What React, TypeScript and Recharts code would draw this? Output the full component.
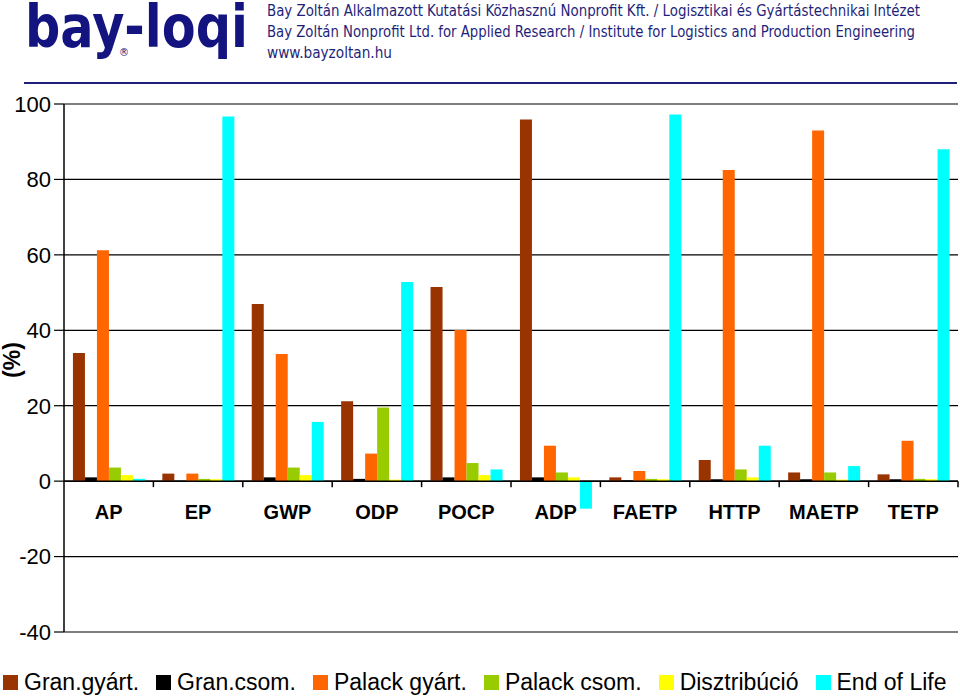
import { BarChart, Bar, XAxis, YAxis, CartesianGrid, ReferenceLine } from "recharts";

const categories = ["AP", "EP", "GWP", "ODP", "POCP", "ADP", "FAETP", "HTTP", "MAETP", "TETP"];
const granGyart = [34.0, 2.0, 47.0, 21.2, 51.5, 95.9, 1.0, 5.6, 2.3, 1.8];
const granCsom = [1.0, 0.1, 1.0, 0.6, 1.0, 1.0, 0.2, 0.5, 0.5, 0.5];
const palackGyart = [61.2, 2.0, 33.7, 7.3, 40.1, 9.4, 2.7, 82.5, 93.0, 10.7];
const palackCsom = [3.6, 0.6, 3.6, 19.5, 4.8, 2.3, 0.6, 3.1, 2.3, 0.6];
const disztribucio = [1.6, 0.5, 1.6, 0.4, 1.6, 1.0, 0.5, 1.0, 0.4, 0.5];
const endOfLife = [0.6, 96.7, 15.7, 52.8, 3.1, -7.3, 97.2, 9.4, 4.0, 88.0];

const yTicks = [-40, -20, 0, 20, 40, 60, 80, 100];

const series = [
  { key: "granGyart", name: "Gran.gyárt.", color: "#993300", values: granGyart },
  { key: "granCsom", name: "Gran.csom.", color: "#000000", values: granCsom },
  { key: "palackGyart", name: "Palack gyárt.", color: "#FF6600", values: palackGyart },
  { key: "palackCsom", name: "Palack csom.", color: "#99CC00", values: palackCsom },
  { key: "disztribucio", name: "Disztribúció", color: "#FFFF00", values: disztribucio },
  { key: "endOfLife", name: "End of Life", color: "#00FFFF", values: endOfLife },
];

const data = categories.map((c, i) => {
  const row: Record<string, string | number> = { name: c };
  series.forEach((s) => (row[s.key] = s.values[i]));
  return row;
});

const W = 960;
const H = 698;
const M = { top: 104, right: 2, left: 0, bottom: 65 };
const Y_AXIS_W = 64;
const X_AXIS_H = 1;
const Y_MIN = -40;
const Y_MAX = 100;
const plotH = H - M.top - M.bottom - X_AXIS_H;
const plotW = W - M.left - M.right - Y_AXIS_W;
const zeroY = M.top + (plotH * Y_MAX) / (Y_MAX - Y_MIN);
const band = plotW / categories.length;

const font = "'Liberation Sans', Arial, sans-serif";
const navy = "#1f1f7a";

// category labels sit under the zero line, not at the bottom of the plot
function CategoryTick(props: any) {
  const { x, payload } = props;
  return (
    <g>
      <line x1={x + band / 2} x2={x + band / 2} y1={zeroY} y2={zeroY + 6} stroke="#000" strokeWidth={1.5} />
      <text x={x} y={zeroY + 38} textAnchor="middle" fontFamily={font} fontWeight="bold" fontSize={20} fill="#000">
        {payload.value}
      </text>
    </g>
  );
}

export default function App() {
  return (
    <div style={{ position: "absolute", left: 0, top: 0, width: W, height: H, background: "#fff", overflow: "hidden" }}>
      <BarChart width={W} height={H} data={data} margin={M} barCategoryGap="10%" barGap={0}>
        <CartesianGrid vertical={false} stroke="#000" strokeWidth={1.2} />
        <XAxis
          dataKey="name"
          height={X_AXIS_H}
          axisLine={false}
          tickLine={false}
          interval={0}
          tick={<CategoryTick />}
        />
        <YAxis
          width={Y_AXIS_W}
          domain={[Y_MIN, Y_MAX]}
          ticks={yTicks}
          interval={0}
          axisLine={{ stroke: "#000", strokeWidth: 1.5 }}
          tickLine={{ stroke: "#000", strokeWidth: 1.2 }}
          tickSize={10}
          tickMargin={3}
          tick={{ fontFamily: font, fontSize: 22, fill: "#000" }}
        />
        {series.map((s) => (
          <Bar key={s.key} dataKey={s.key} name={s.name} fill={s.color} isAnimationActive={false} />
        ))}
        <ReferenceLine y={0} stroke="#000" strokeWidth={1.5} />
      </BarChart>

      <svg width={W} height={H} style={{ position: "absolute", left: 0, top: 0, pointerEvents: "none" }}>
        <text x={25} y={47} fontFamily="'DejaVu Sans', sans-serif" fontWeight="bold" fontSize={58} fill="#141480" textLength={223} lengthAdjust="spacingAndGlyphs">
          bay-loqi
        </text>
        <text x={119} y={56} fontFamily="'DejaVu Sans', sans-serif" fontSize={10} fill="#141480">
          ®
        </text>
        <g fontFamily="'Liberation Sans Narrow', 'DejaVu Sans Condensed', 'Open Sans', sans-serif" fontSize={16} fill={navy}>
          <text x={267} y={16} textLength={653} lengthAdjust="spacingAndGlyphs">
            Bay Zoltán Alkalmazott Kutatási Közhasznú Nonprofit Kft. / Logisztikai és Gyártástechnikai Intézet
          </text>
          <text x={267} y={37} textLength={648} lengthAdjust="spacingAndGlyphs">
            Bay Zoltán Nonprofit Ltd. for Applied Research / Institute for Logistics and Production Engineering
          </text>
          <text x={267} y={58} textLength={125} lengthAdjust="spacingAndGlyphs">
            www.bayzoltan.hu
          </text>
        </g>
        <line x1={24} x2={957} y1={83} y2={83} stroke={navy} strokeWidth={2} />
        <text
          transform="translate(20, 360) rotate(-90)"
          textAnchor="middle"
          fontFamily={font}
          fontWeight="bold"
          fontSize={23}
          fill="#000"
        >
          (%)
        </text>
      </svg>

      <div style={{ position: "absolute", left: 3, top: 669, display: "flex", alignItems: "center", fontFamily: font, fontSize: 23, color: "#000", whiteSpace: "nowrap" }}>
        {series.map((s) => (
          <div key={s.key} style={{ display: "flex", alignItems: "center", marginRight: 17 }}>
            <span style={{ display: "inline-block", width: 15, height: 15, background: s.color, marginRight: 6 }} />
            <span>{s.name}</span>
          </div>
        ))}
      </div>
    </div>
  );
}
